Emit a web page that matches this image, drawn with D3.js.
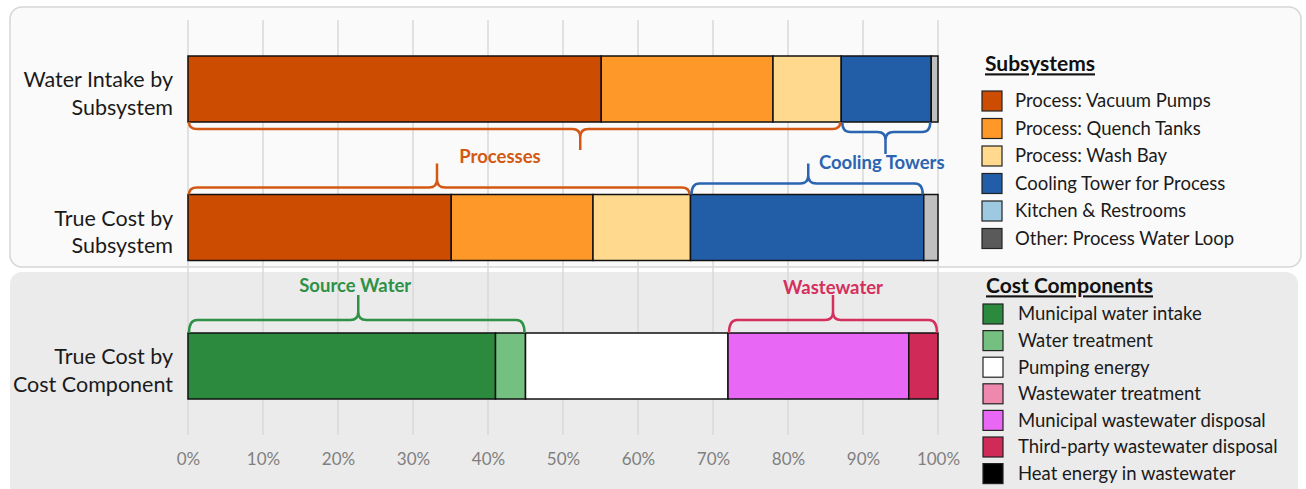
<!DOCTYPE html>
<html>
<head>
<meta charset="utf-8">
<script src="https://cdn.jsdelivr.net/npm/d3@7"></script>
<style>
  body { margin: 0; background: #fff; }
  svg { font-family: Lato, "Open Sans", sans-serif; display: block; }
</style>
</head>
<body>
<script>
const width = 1306,
    height = 489;

// rows of the chart
const categories = ["Water Intake by|Subsystem", "True Cost by|Subsystem", "True Cost by|Cost Component"];

const subsystemNames = ["Process: Vacuum Pumps", "Process: Quench Tanks", "Process: Wash Bay",
  "Cooling Tower for Process", "Kitchen & Restrooms", "Other: Process Water Loop"];
const subsystemColors = ["#cc4c02", "#fe9929", "#fed98e", "#225ea8", "#9ecae1", "#5a5a5a"];
const subsystemBarColors = ["#cc4c02", "#fe9929", "#fed98e", "#225ea8", "#9ecae1", "#bfbfbf"];
const waterIntake = [55.1, 22.9, 9.1, 12.0, 0, 0.9];
const trueCostSubsystem = [35.1, 18.9, 13.0, 31.1, 0, 1.9];

const costNames = ["Municipal water intake", "Water treatment", "Pumping energy", "Wastewater treatment",
  "Municipal wastewater disposal", "Third-party wastewater disposal", "Heat energy in wastewater"];
const costColors = ["#2b8a3e", "#74c080", "#ffffff", "#ef88ad", "#e967f5", "#d02b58", "#000000"];
const trueCostComponent = [41.0, 4.0, 27.0, 0, 24.1, 3.9, 0];

const ticks = [0, 10, 20, 30, 40, 50, 60, 70, 80, 90, 100];

// group braces: [row, from %, to %, tip %, side]
const braceRows = [0, 0, 1, 1, 2, 2];
const braceFrom = [0, 87.1, 0, 67.0, 0, 72.0];
const braceTo = [87.1, 99.1, 67.0, 98.1, 45.0, 100];
const braceTip = [52.3, 93.0, 33.2, 82.7, 22.7, 86.0];
const braceSide = ["below", "below", "above", "above", "above", "above"];
const braceColors = ["#d35813", "#2b64b0", "#d35813", "#2b64b0", "#2e9146", "#d42f5d"];

const groupLabels = ["Processes", "Cooling Towers", "Source Water", "Wastewater"];
const groupLabelX = [41.6, 92.5, 22.3, 86.0];
const groupLabelColors = ["#d35813", "#2b64b0", "#2e9146", "#d42f5d"];

const svg = d3.select('body').append('svg')
    .attr('width', width)
    .attr('height', height);

// panels
svg.append("rect")
    .attr("x", 10).attr("y", 7).attr("width", 1291).attr("height", 260)
    .attr("rx", 12)
    .attr("fill", "#fafafa").attr("stroke", "#d6d6d6").attr("stroke-width", 1.5);
svg.append("rect")
    .attr("x", 10).attr("y", 272).attr("width", 1288).attr("height", 240)
    .attr("rx", 12)
    .attr("fill", "#ebebeb");

const x = d3.scaleLinear().domain([0, 100]).range([188, 938]);
const y = d3.scalePoint().domain(categories).range([89, 366]);
const barH = 66;

// grid
svg.append("g").selectAll("line")
    .data(ticks)
    .enter().append("line")
    .attr("x1", d => x(d)).attr("x2", d => x(d))
    .attr("y1", 20).attr("y2", 435)
    .attr("stroke", "#d9d9d9").attr("stroke-width", 1.5);

// axis labels
const axis = svg.append("g")
    .attr("transform", "translate(0,459)")
    .call(d3.axisBottom(x).tickValues(ticks).tickFormat(d => d + "%").tickSize(0).tickPadding(0));
axis.select(".domain").remove();
axis.selectAll("text")
    .attr("dy", "0.35em")
    .attr("fill", "#7f7f7f")
    .style("font-size", "17px")
    .style("font-family", "Lato, sans-serif");

// category labels
const catG = svg.append("g").selectAll("text")
    .data(categories)
    .enter().append("text")
    .attr("text-anchor", "end")
    .attr("x", 173)
    .attr("y", d => y(d))
    .attr("fill", "#1a1a1a")
    .style("font-size", "21.5px");
catG.selectAll("tspan")
    .data(d => d.split("|"))
    .enter().append("tspan")
    .attr("x", 173)
    .attr("dy", (d, i) => i == 0 ? "-0.07em" : "1.26em")
    .text(d => d);

// stacked bars
const rows = [
  { cat: categories[0], values: waterIntake, colors: subsystemBarColors },
  { cat: categories[1], values: trueCostSubsystem, colors: subsystemBarColors },
  { cat: categories[2], values: trueCostComponent, colors: costColors }
];

rows.forEach(function(row) {
  const ends = d3.cumsum(row.values);
  const segs = row.values.map((v, i) => ({ v: v, x0: ends[i] - v, x1: ends[i], color: row.colors[i] }))
      .filter(s => s.v > 0);
  svg.append("g").selectAll("rect")
      .data(segs)
      .enter().append("rect")
      .attr("x", d => x(d.x0))
      .attr("width", d => x(d.x1) - x(d.x0))
      .attr("y", y(row.cat) - barH / 2)
      .attr("height", barH)
      .attr("fill", d => d.color)
      .attr("stroke", "#111")
      .attr("stroke-width", 1.5);
});

// braces
function bracePath(x0, x1, xt, yEdge, yLine, yTip) {
  const r = 8;
  const d = yTip > yLine ? 1 : -1;
  return "M" + x0 + "," + yEdge +
    " Q" + x0 + "," + yLine + " " + (x0 + r) + "," + yLine +
    " H" + (xt - r) +
    " Q" + xt + "," + yLine + " " + xt + "," + (yLine + d * r) +
    " V" + yTip +
    " M" + xt + "," + (yLine + d * r) +
    " Q" + xt + "," + yLine + " " + (xt + r) + "," + yLine +
    " H" + (x1 - r) +
    " Q" + x1 + "," + yLine + " " + x1 + "," + yEdge;
}

svg.append("g").selectAll("path")
    .data(braceRows)
    .enter().append("path")
    .attr("d", function(r, i) {
      const cy = y(categories[r]);
      let yEdge, yLine, yTip;
      if (braceSide[i] == "below") {
        yEdge = cy + barH / 2;
        yLine = yEdge + (i == 1 ? 10 : 7);
        yTip = yEdge + (i == 1 ? 32 : 28);
      } else {
        yEdge = cy - barH / 2;
        yLine = yEdge - (r == 2 ? 13 : (i == 2 ? 7 : 11));
        yTip = yEdge - (r == 2 ? 38 : 31);
      }
      return bracePath(x(braceFrom[i]) + 1, x(braceTo[i]) - 1, x(braceTip[i]), yEdge, yLine, yTip);
    })
    .attr("fill", "none")
    .attr("stroke", (d, i) => braceColors[i])
    .attr("stroke-width", 2.5);

const labelY = [157, 163, 286, 288];
svg.append("g").selectAll("text")
    .data(groupLabels)
    .enter().append("text")
    .attr("x", (d, i) => x(groupLabelX[i]))
    .attr("y", (d, i) => labelY[i])
    .attr("dy", "0.35em")
    .attr("text-anchor", "middle")
    .attr("fill", (d, i) => groupLabelColors[i])
    .style("font-size", "18.5px")
    .style("font-weight", "bold")
    .text(d => d);

// legends
function legend(title, names, colors, tx, ty, sx, tOff, rowY, step) {
  const g = svg.append("g");
  g.append("text")
      .attr("x", tx).attr("y", ty).attr("dy", "0.35em")
      .style("font-size", "21px").style("font-weight", "bold")
      .style("text-decoration", "underline")
      .attr("fill", "#111")
      .text(title);
  const item = g.selectAll("g.item")
      .data(names)
      .enter().append("g")
      .attr("class", "item")
      .attr("transform", (d, i) => "translate(" + sx + "," + (rowY + i * step) + ")");
  item.append("rect")
      .attr("x", 0).attr("y", -10).attr("width", 20).attr("height", 20)
      .attr("fill", (d, i) => colors[i])
      .attr("stroke", "#222").attr("stroke-width", 1.2);
  item.append("text")
      .attr("x", tOff).attr("y", 0).attr("dy", "0.35em")
      .style("font-size", "18.5px")
      .attr("fill", "#1a1a1a")
      .text(d => d);
}

legend("Subsystems", subsystemNames, subsystemColors, 985, 64, 982, 33, 101, 27.5);
legend("Cost Components", costNames, costColors, 986, 286, 983, 35, 314, 26.6);
</script>
</body>
</html>
